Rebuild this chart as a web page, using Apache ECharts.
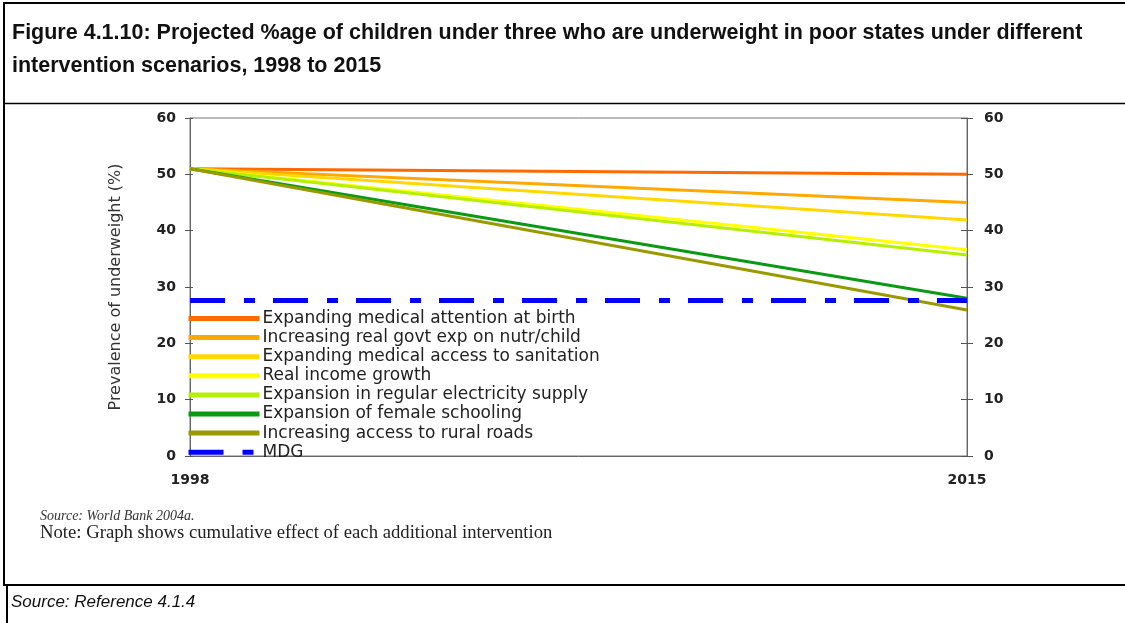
<!DOCTYPE html>
<html>
<head>
<meta charset="utf-8">
<script src="https://cdn.jsdelivr.net/npm/echarts@6/dist/echarts.min.js"></script>
<style>
html,body{margin:0;padding:0;background:#fff;}
#chart{width:1125px;height:623px;}
</style>
</head>
<body>
<div id="chart"></div>
<script>
const years = ['1998', '2015'];
const seriesNames = [
  'Expanding medical attention at birth',
  'Increasing real govt exp on nutr/child',
  'Expanding medical access to sanitation',
  'Real income growth',
  'Expansion in regular electricity supply',
  'Expansion of female schooling',
  'Increasing access to rural roads',
  'MDG'
];
const medicalBirth = [51, 50];
const govtExp = [51, 45];
const sanitation = [51, 41.9];
const incomeGrowth = [51, 36.6];
const electricity = [51, 35.7];
const femaleSchooling = [51, 28];
const ruralRoads = [51, 25.9];
const mdg = [27.6, 27.6];

const seriesValues = [medicalBirth, govtExp, sanitation, incomeGrowth, electricity, femaleSchooling, ruralRoads, mdg];
const colors = ['#FF6A00', '#FFA800', '#FFD800', '#FFFF00', '#B4F000', '#0C9A14', '#9A9A00', '#0000FF'];

const chart = echarts.init(document.getElementById('chart'));

const series = seriesValues.map((vals, i) => {
  const isMdg = i === 7;
  return {
    name: seriesNames[i],
    type: 'line',
    data: vals,
    symbol: 'none',
    z: isMdg ? 3 : 2,
    lineStyle: {
      color: colors[i],
      width: isMdg ? 5 : 3,
      type: isMdg ? [35, 19, 11, 18] : 'solid'
    },
    itemStyle: { color: colors[i] }
  };
});

const tickFont = { fontFamily: 'DejaVu Sans', fontWeight: 'bold', fontSize: 14, color: '#222' };

const yCommon = {
  type: 'value', min: 0, max: 60, interval: 10,
  splitLine: { show: false }
};

chart.setOption({
  animation: false,
  color: colors,
  title: {
    text: 'Figure 4.1.10: Projected %age of children under three who are underweight in poor states under different\nintervention scenarios, 1998 to 2015',
    left: 7, top: 12,
    textStyle: { fontFamily: 'Liberation Sans', fontWeight: 'bold', fontSize: 21.5, color: '#111', lineHeight: 33 }
  },
  grid: {
    left: 190, right: 158, top: 118, bottom: 167,
    show: true, borderColor: '#777', borderWidth: 1, backgroundColor: 'transparent'
  },
  legend: {
    orient: 'vertical',
    left: 186, top: 310,
    padding: 0,
    itemWidth: 71, itemHeight: 15, itemGap: 2.1,
    data: seriesNames,
    selectedMode: false,
    itemStyle: { opacity: 0, borderWidth: 0 },
    textStyle: { fontFamily: 'DejaVu Sans', fontSize: 17, color: '#222', padding: [0,0,0,-2] },
    lineStyle: { width: 5 }
  },
  xAxis: {
    type: 'category', data: years, boundaryGap: false,
    axisLine: { lineStyle: { color: '#666' } },
    axisTick: { show: false },
    axisLabel: Object.assign({ margin: 17 }, tickFont)
  },
  yAxis: [
    Object.assign({}, yCommon, {
      position: 'left',
      name: 'Prevalence of underweight (%)',
      nameLocation: 'middle', nameGap: 66, nameRotate: 90,
      nameTextStyle: { fontFamily: 'DejaVu Sans', fontSize: 16, color: '#333' },
      axisLine: { show: true, lineStyle: { color: '#666' } },
      axisTick: { show: true, length: 5, lineStyle: { color: '#555' } },
      axisLabel: Object.assign({ margin: 14 }, tickFont)
    }),
    Object.assign({}, yCommon, {
      position: 'right',
      axisLine: { show: true, lineStyle: { color: '#666' } },
      axisTick: { show: true, length: 6, lineStyle: { color: '#555' } },
      axisLabel: Object.assign({ margin: 17 }, tickFont)
    }),
    Object.assign({}, yCommon, {
      position: 'left',
      axisLine: { show: false },
      axisTick: { show: true, inside: true, length: 3, lineStyle: { color: '#555' } },
      axisLabel: { show: false }
    }),
    Object.assign({}, yCommon, {
      position: 'right',
      axisLine: { show: false },
      axisTick: { show: true, inside: true, length: 6, lineStyle: { color: '#555' } },
      axisLabel: { show: false }
    })
  ],
  series: series,
  graphic: [
    { type: 'line', shape: { x1: 3, y1: 3, x2: 1125, y2: 3 }, style: { stroke: '#000', lineWidth: 2 } },
    { type: 'line', shape: { x1: 4, y1: 3, x2: 4, y2: 586 }, style: { stroke: '#000', lineWidth: 2 } },
    { type: 'line', shape: { x1: 4, y1: 103.5, x2: 1125, y2: 103.5 }, style: { stroke: '#000', lineWidth: 1.5 } },
    { type: 'line', shape: { x1: 4, y1: 585, x2: 1125, y2: 585 }, style: { stroke: '#000', lineWidth: 2 } },
    { type: 'line', shape: { x1: 7, y1: 585, x2: 7, y2: 623 }, style: { stroke: '#000', lineWidth: 2 } },
    { type: 'text', left: 40, top: 509, style: { text: 'Source: World Bank 2004a.', font: 'italic 14px "Liberation Serif"', fill: '#333' } },
    { type: 'text', left: 40, top: 524, style: { text: 'Note: Graph shows cumulative effect of each additional intervention', font: '18.7px "Liberation Serif"', fill: '#222' } },
    { type: 'text', left: 11, top: 594, style: { text: 'Source: Reference 4.1.4', font: 'italic 17px "Liberation Sans"', fill: '#111' } }
  ]
});
</script>
</body>
</html>
